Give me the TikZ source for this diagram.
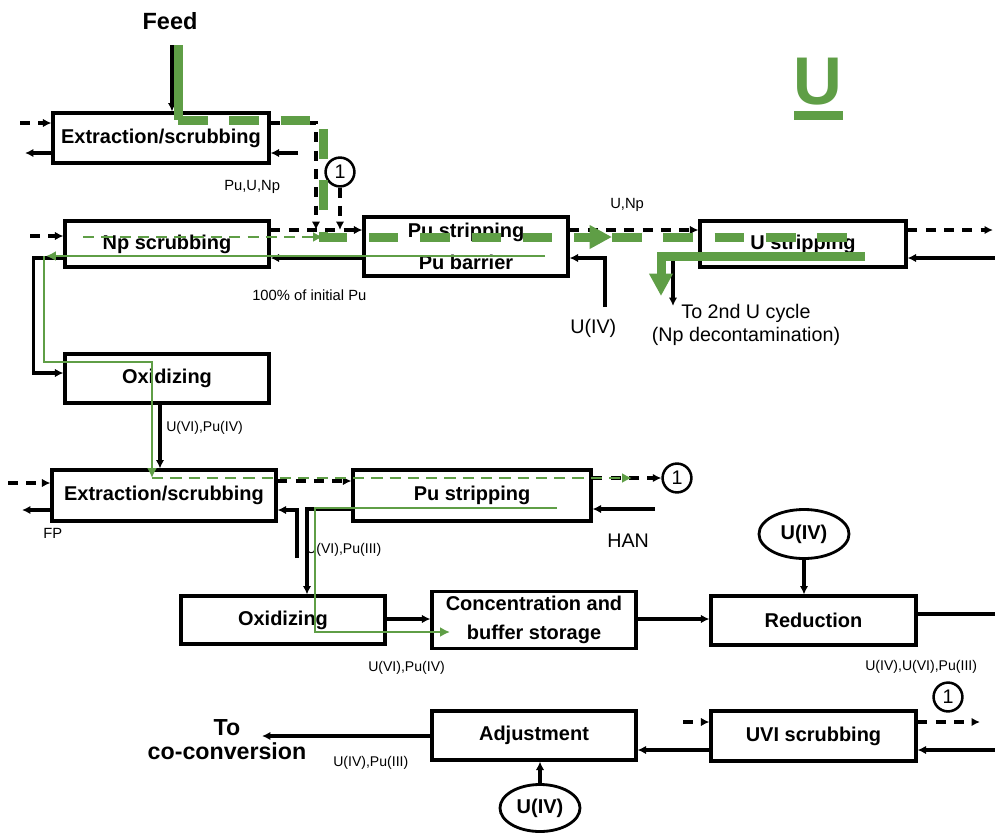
\documentclass[tikz,border=0pt]{standalone}
\usepackage{fontspec}
\setmainfont{Liberation Sans}
\usepackage{tikz}
\usetikzlibrary{calc}
\usetikzlibrary{arrows.meta}
\usetikzlibrary{shapes.geometric}
\usetikzlibrary{positioning}
\definecolor{pugreen}{RGB}{95,158,70}
\newcommand{\boxfont}{\fontsize{14.2}{16}\selectfont\bfseries}
\newcommand{\tagfont}{\fontsize{10.5}{12}\selectfont}
\newcommand{\midfont}{\fontsize{14}{16}\selectfont}
\tikzset{>=latex}
\tikzstyle{unit} = [draw, line width=2.2pt, inner sep=0, font=\boxfont, align=center]
\tikzstyle{tag} = [inner sep=0, anchor=west, font=\tagfont]
\tikzstyle{onecirc} = [circle, draw, line width=1.8pt, minimum size=20.5pt, inner sep=0, font=\midfont]
\tikzstyle{reagent} = [ellipse, draw, line width=2pt, inner sep=0, font=\boxfont]
\tikzstyle{flow} = [-{Latex[length=6pt,width=6pt]}, line width=2.2pt]
\tikzstyle{recycle} = [flow, dash pattern=on 7pt off 6pt]
\tikzstyle{puline} = [pugreen, line width=2pt, -{Latex[length=7pt,width=7pt]}]
\tikzstyle{pudash} = [puline, dash pattern=on 8pt off 5pt]
\tikzstyle{uline} = [pugreen, line width=6.4pt]
\tikzstyle{udash} = [uline, dash pattern=on 21pt off 15.5pt]
\tikzstyle{bighead} = [-{Triangle[length=16pt,width=16pt]}]

\begin{document}
\begin{tikzpicture}[x=0.025cm, y=-0.025cm]
\useasboundingbox (0,0) rectangle (995,837);
% process units
\node [unit, minimum width=5.4cm, minimum height=1.25cm] (ext1) at (161,138) {Extraction/scrubbing};
\node [unit, minimum width=5.1cm, minimum height=1.15cm] (np) at (167,244) {Np scrubbing};
\node [unit, minimum width=5.1cm, minimum height=1.475cm, font=\fontsize{14.2}{22.5}\selectfont\bfseries] (pus1) at (466,246.5) {Pu stripping\\Pu barrier};
\node [unit, minimum width=5.15cm, minimum height=1.15cm] (ust) at (803,244) {U stripping};
\node [unit, minimum width=5.1cm, minimum height=1.225cm] (ox1) at (167,378.5) {Oxidizing};
\node [unit, minimum width=5.6cm, minimum height=1.275cm] (ext2) at (164,495.5) {Extraction/scrubbing};
\node [unit, minimum width=5.95cm, minimum height=1.275cm] (pus2) at (472,495.5) {Pu stripping};
\node [unit, minimum width=5.1cm, minimum height=1.2cm] (ox2) at (283,620) {Oxidizing};
\node [unit, minimum width=5.1cm, minimum height=1.425cm, font=\fontsize{14.2}{21}\selectfont\bfseries] (conc) at (534,620) {Concentration and\\buffer storage};
\node [unit, minimum width=5.125cm, minimum height=1.225cm] (red) at (813.5,620.5) {Reduction};
\node [unit, minimum width=5.125cm, minimum height=1.25cm] (uvi) at (813.5,736) {UVI scrubbing};
\node [unit, minimum width=5.1cm, minimum height=1.225cm] (adj) at (534,735.5) {Adjustment};
\node [reagent, minimum width=2.25cm, minimum height=1.225cm] (uiv2) at (804,534) {U(IV)};
\node [reagent, minimum width=2cm, minimum height=1.175cm] (uiv3) at (540,808) {U(IV)};
\node [onecirc] (c1a) at (340,172) {1};
\node [onecirc] (c1b) at (677,478) {1};
\node [onecirc] (c1c) at (948,697) {1};
% labels
\node [font=\fontsize{16.7}{18}\selectfont\bfseries] (feed) at (170,21) {Feed};
\node [font=\fontsize{48}{50}\selectfont\bfseries, text=pugreen] (bigu) at (818,82) {U};
\fill [pugreen] (794,111) rectangle (843,120);
\node [tag] (l1) at (224,187) {Pu,U,Np};
\node [tag] (l2) at (252,295) {100\% of initial Pu};
\node [tag] (l3) at (610,205) {U,Np};
\node [tag, font=\midfont] (uiv1) at (570,328) {U(IV)};
\node [align=center, inner sep=0, font=\fontsize{14}{16.3}\selectfont] (l4) at (746,325) {To 2nd U cycle\\(Np decontamination)};
\node [tag, font=\fontsize{10}{12}\selectfont] (l5) at (166,428) {U(VI),Pu(IV)};
\node [tag] (l6) at (43,533) {FP};
\node [tag, font=\fontsize{10}{12}\selectfont] (l7) at (306,550) {U(VI),Pu(III)};
\node [tag, font=\midfont] (han) at (607,541) {HAN};
\node [tag, font=\fontsize{10}{12}\selectfont] (l8) at (368,668) {U(VI),Pu(IV)};
\node [tag, font=\fontsize{10}{12}\selectfont] (l9) at (865,667) {U(IV),U(VI),Pu(III)};
\node [tag, font=\fontsize{10}{12}\selectfont] (l10) at (333,763) {U(IV),Pu(III)};
\node [align=center, inner sep=0, font=\fontsize{16.5}{17}\selectfont\bfseries] (toco) at (227,740) {To\\co-conversion};
% free ends
\coordinate (feedtop) at (172,45);
\coordinate (e1a) at (20,123);
\coordinate (e1b) at (25,153);
\coordinate (e1c) at (298,153);
\coordinate (e1d) at (316,123);
\coordinate (j1) at (316,230);
\coordinate (n1) at (30,236);
\coordinate (u1) at (605,307);
\coordinate (u2) at (673,306);
\coordinate (u3) at (993,230);
\coordinate (u4) at (995,258);
\coordinate (x0) at (8,483);
\coordinate (x1) at (22,510);
\coordinate (x2) at (297,558);
\coordinate (h1) at (655,509);
\coordinate (r1) at (995,614);
\coordinate (v1) at (683,722);
\coordinate (v2) at (980,722);
\coordinate (v3) at (995,750);
\coordinate (out) at (262,736);
% black streams
\draw [flow] (feedtop) -- (ext1.north -| feedtop);
\draw [recycle] (e1a) -- (ext1.west |- e1a);
\draw [flow] (ext1.west |- e1b) -- (e1b);
\draw [flow] (e1c) -- (ext1.east |- e1c);
\draw [recycle] (ext1.east |- e1d) -| (j1);
\draw [recycle] (c1a) -- (c1a |- j1);
\draw [recycle] (n1) -- (np.west |- n1);
\draw [recycle] (np.east |- j1) -- (pus1.west |- j1);
\draw [flow] (pus1.west |- 0,258) -- (np.east |- 0,258);
\draw [flow] (np.west |- 0,258) -- ++(-30,0) |- (ox1.west |- 0,373);
\draw [flow] (u1) |- (pus1.east |- 0,258);
\draw [recycle] (pus1.east |- j1) -- (ust.west |- j1);
\draw [flow] (ust.west |- 0,258) -| (u2);
\draw [recycle] (ust.east |- u3) -- (u3);
\draw [flow] (u4) -- (ust.east |- u4);
\draw [flow] (ox1.south -| 160,0) -- (ext2.north -| 160,0);
\draw [recycle] (x0) -- (ext2.west |- x0);
\draw [flow] (ext2.west |- x1) -- (x1);
\draw [recycle] (ext2.east |- 0,481) -- (pus2.west |- 0,481);
\draw [recycle] (pus2.east |- c1b) -- (c1b);
\draw [flow] (h1) -- (pus2.east |- h1);
\draw [flow] (pus2.west |- h1) -| (ox2.north -| 307,0);
\draw [flow] (x2) |- (ext2.east |- 0,510);
\draw [flow] (ox2.east |- 0,619) -- (conc.west |- 0,619);
\draw [flow] (conc.east |- 0,619) -- (red.west |- 0,619);
\draw [flow] (uiv2.south) -- (red.north -| uiv2.south);
\draw [line width=2.2pt] (red.east |- r1) -- (r1);
\draw [recycle] (v1) -- (uvi.west |- v1);
\draw [recycle] (uvi.east |- v2) -- (v2);
\draw [flow] (v3) -- (uvi.east |- v3);
\draw [flow] (uvi.west |- v3) -- (adj.east |- v3);
\draw [flow] (adj.west |- out) -- (out);
\draw [flow] (uiv3.north) -- (adj.south -| uiv3.north);
% plutonium route (thin green)
\coordinate (pa) at (545,256);
\coordinate (pb) at (46,256);
\coordinate (pc) at (44,256);
\coordinate (pd) at (152,362);
\coordinate (pe) at (152,478);
\coordinate (pf) at (632,478);
\coordinate (pg) at (83,237);
\coordinate (ph) at (323,237);
\coordinate (pi) at (557,508);
\coordinate (pk) at (315,632);
\coordinate (pj) at (450,632);
\draw [puline] (pa) -- (pb);
\draw [puline] (pc) |- (pd) -- (pe);
\draw [pudash] (pe) -- (pf);
\draw [pudash] (pg) -- (ph);
\draw [puline] (pi) -| (pk) -- (pj);
% uranium route (thick green)
\coordinate (ga) at (178,45);
\coordinate (gb) at (178,120);
\coordinate (gc) at (323,120);
\coordinate (gd) at (323,237);
\coordinate (ge) at (612,237);
\coordinate (gf) at (865,237);
\coordinate (gg) at (865,256);
\coordinate (gh) at (661,256);
\coordinate (gi) at (661,296);
\draw [uline] (ga) -- (gb);
\draw [udash, bighead] (gb) -- (gc) -- (gd) -- (ge);
\draw [udash] (ge) -- (gf);
\draw [uline, bighead] (gg) -- (gh) -- (gi);
\end{tikzpicture}
\end{document}
